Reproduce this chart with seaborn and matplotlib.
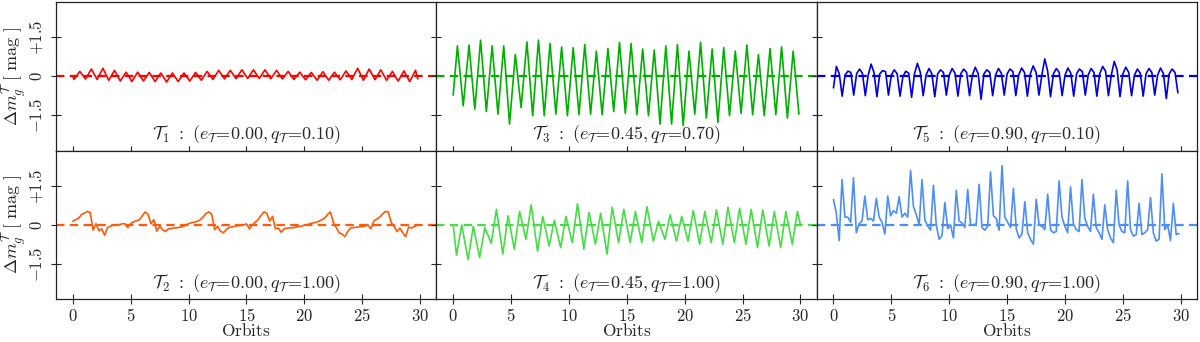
import matplotlib.pyplot as plt
import numpy as np
import seaborn as sns

# --- data (orbits vs. Delta m_g) ---
# T1: troughs near n+0.1, peaks near n+0.6
t1_trough = [-0.12, -0.10, -0.12, -0.15, -0.18, -0.20, -0.18, -0.20, -0.22, -0.20,
             -0.18, -0.15, -0.12, -0.10, -0.09, -0.08, -0.08, -0.09, -0.10, -0.12,
             -0.13, -0.15, -0.15, -0.13, -0.12, -0.15, -0.13, -0.15, -0.18, -0.20]
t1_peak = [0.19, 0.28, 0.31, 0.23, 0.16, 0.16, 0.15, 0.13, 0.13, 0.13,
           0.15, 0.19, 0.23, 0.23, 0.25, 0.25, 0.25, 0.23, 0.19, 0.16,
           0.15, 0.18, 0.16, 0.21, 0.31, 0.28, 0.25, 0.19, 0.21, 0.23]

# T2: sampled every 0.25 orbit
t2_vals = [0.14, 0.20, 0.26, 0.40, 0.45, 0.52, 0.48, -0.20, 0.05, -0.22, -0.15, -0.40,
           -0.10, -0.05, 0.00, 0.01, 0.01, 0.04, 0.05, -0.10, 0.05, 0.12, 0.16, 0.20,
           0.35, 0.50, 0.40, 0.05, 0.20, -0.24, -0.05, -0.18, -0.25, -0.15, -0.14, -0.11,
           -0.11, -0.08, -0.07, 0.00, 0.05, 0.08, 0.11, 0.14, 0.20, 0.30, 0.44, 0.50,
           0.40, -0.18, -0.05, -0.24, -0.30, -0.18, -0.09, -0.07, -0.05, -0.03, -0.02, 0.00,
           0.04, -0.15, 0.00, 0.10, 0.20, 0.36, 0.50, 0.45, 0.15, 0.33, -0.15, -0.12,
           -0.28, -0.15, -0.12, -0.11, -0.11, -0.08, -0.06, -0.05, 0.00, 0.01, 0.05, 0.08,
           0.10, 0.14, 0.20, 0.26, 0.40, 0.50, 0.10, -0.10, -0.30, -0.35, -0.45, -0.25,
           -0.11, -0.10, -0.09, -0.07, -0.06, -0.04, 0.00, -0.15, 0.15, 0.22, 0.30, 0.42,
           0.52, 0.50, 0.10, -0.06, -0.25, -0.12, -0.30, -0.45, -0.08, -0.12, -0.06, 0.00]

# T3: peaks near n+0.37, troughs near n+0.87
t3_peak = [1.17, 1.20, 1.39, 1.17, 1.17, 0.84, 1.32, 1.39, 1.26, 1.13,
           1.10, 1.22, 0.97, 1.07, 1.30, 1.26, 1.05, 1.01, 1.17, 1.22,
           0.97, 1.30, 1.05, 1.10, 0.97, 1.20, 0.84, 1.07, 1.13, 0.97]
t3_trough = [-1.13, -1.26, -1.35, -1.45, -1.83, -1.20, -1.51, -1.51, -1.45, -1.51,
             -1.47, -1.45, -1.47, -1.35, -1.42, -1.47, -1.51, -1.83, -1.83, -1.89,
             -1.45, -1.60, -1.76, -1.51, -1.42, -1.47, -1.51, -1.47, -1.60, -1.45]

# T4: troughs near n+0.29, peaks near n+0.74
t4_trough = [-1.16, -1.33, -1.25, -0.70, -1.12, -0.93, -0.55, -1.00, -0.81, -0.87,
             -0.68, -0.93, -0.74, -1.12, -0.68, -0.68, -0.68, -0.62, -0.55, -0.62,
             -0.62, -0.74, -0.68, -0.74, -0.68, -0.74, -0.87, -0.81, -0.87, -0.74]
t4_peak = [0.00, -0.05, -0.10, 0.60, 0.35, 0.52, 0.77, 0.33, 0.18, 0.33,
           0.81, 0.48, 0.45, 0.68, 0.60, 0.52, 0.70, 0.14, 0.39, 0.33,
           0.55, 0.52, 0.58, 0.68, 0.64, 0.60, 0.58, 0.52, 0.52, 0.52]

# T5: sampled every 0.25 orbit
t5_vals = [-0.44, 0.38, 0.10, -0.76, 0.05, 0.20, 0.15, -0.72, 0.10, 0.28, 0.12, -0.74,
           0.05, 0.47, 0.15, -0.78, 0.10, 0.22, 0.18, -0.72, 0.05, 0.25, 0.10, -0.76,
           0.00, 0.20, 0.12, -0.80, 0.10, 0.50, 0.15, -0.74, 0.05, 0.30, 0.10, -0.78,
           0.10, 0.25, 0.15, -0.72, 0.05, 0.30, 0.12, -0.76, 0.10, 0.28, 0.15, -0.74,
           0.05, 0.35, 0.10, -0.88, 0.10, 0.25, 0.15, -0.74, 0.05, 0.30, 0.12, -0.72,
           0.10, 0.28, 0.18, -0.74, 0.05, 0.32, 0.15, -0.76, 0.10, 0.40, 0.15, -0.72,
           0.05, 0.67, 0.20, -0.78, 0.10, 0.30, 0.15, -0.74, 0.05, 0.32, 0.12, -0.76,
           0.10, 0.28, 0.18, -0.72, 0.05, 0.30, 0.15, -0.76, 0.10, 0.38, 0.20, -0.74,
           0.05, 0.57, 0.25, -0.78, 0.10, 0.35, 0.15, -0.74, 0.05, 0.28, 0.12, -0.76,
           0.10, 0.30, 0.15, -0.72, 0.05, 0.32, 0.10, -0.85, 0.10, 0.28, 0.15, -0.63]

# T6: four samples per orbit, spike on every fourth
t6_vals = [0.98, 0.45, -0.60, 1.74, 0.30, 0.30, 0.10, 1.81, -0.30, 0.05, 0.15, 1.11,
           0.20, 0.25, 0.15, 1.02, 0.30, 0.10, -0.35, 1.11, 0.35, 0.55, 0.45, 1.08,
           0.30, 0.45, 0.30, 2.09, 0.70, 0.40, 0.00, 1.74, 0.20, -0.05, -0.20, 1.52,
           0.00, -0.55, -0.40, 0.86, -0.15, 0.00, -0.50, 1.33, 0.15, 0.08, -0.10, 1.36,
           0.00, 0.00, 0.05, 1.56, -0.10, -0.20, -0.05, 2.03, 0.35, 0.25, -0.20, 2.28,
           0.30, 0.10, -0.10, 1.40, -0.15, -0.50, -0.35, 0.89, -0.30, -0.55, -0.74, 0.98,
           0.00, -0.05, -0.18, 1.18, -0.18, -0.30, -0.25, 1.69, 0.30, -0.05, -0.30, 1.46,
           0.05, -0.18, -0.25, 1.74, 0.25, -0.05, -0.25, 1.18, -0.10, -0.30, -0.55, 0.77,
           -0.18, -0.50, -0.68, 1.33, 0.00, -0.25, -0.30, 1.69, -0.18, -0.43, -0.37, 0.83,
           -0.37, -0.30, -0.18, 1.05, -0.30, -0.62, -0.55, 1.96, -0.18, 0.00, -0.60, 0.83,
           -0.37, -0.33]

labels = [r'$\mathcal{T}_1\ :\ (e_{\mathcal{T}}\!=\!0.00, q_{\mathcal{T}}\!=\!0.10)$',
          r'$\mathcal{T}_2\ :\ (e_{\mathcal{T}}\!=\!0.00, q_{\mathcal{T}}\!=\!1.00)$',
          r'$\mathcal{T}_3\ :\ (e_{\mathcal{T}}\!=\!0.45, q_{\mathcal{T}}\!=\!0.70)$',
          r'$\mathcal{T}_4\ :\ (e_{\mathcal{T}}\!=\!0.45, q_{\mathcal{T}}\!=\!1.00)$',
          r'$\mathcal{T}_5\ :\ (e_{\mathcal{T}}\!=\!0.90, q_{\mathcal{T}}\!=\!0.10)$',
          r'$\mathcal{T}_6\ :\ (e_{\mathcal{T}}\!=\!0.90, q_{\mathcal{T}}\!=\!1.00)$']
colors = ['#ff0000', '#ff5a0a', '#00b000', '#44dd44', '#0000dd', '#4d8ef5']
xticks = [0, 5, 10, 15, 20, 25, 30]
yticks = [-1.5, 0, 1.5]
yticklabels = [r'$-1.5$', r'$0$', r'$+1.5$']


def zigzag(t_a, v_a, t_b, v_b):
    # interleave two sets of turning points
    t = np.empty(len(t_a) + len(t_b))
    v = np.empty(len(t_a) + len(t_b))
    t[0::2], t[1::2] = t_a, t_b
    v[0::2], v[1::2] = v_a, v_b
    return t, v


n = np.arange(30)
x1, y1 = zigzag(n + 0.1, t1_trough, n + 0.6, t1_peak)
x1, y1 = np.r_[0, x1, 29.8], np.r_[0.0, y1, -0.1]
x2 = np.arange(len(t2_vals)) * 0.25
y2 = np.array(t2_vals)
x3, y3 = zigzag(n + 0.37, t3_peak, n + 0.87, t3_trough)
x3, y3 = np.r_[0, x3], np.r_[-0.72, y3]
x4, y4 = zigzag(n + 0.29, t4_trough, n + 0.74, t4_peak)
x4, y4 = np.r_[0, x4, 30.0], np.r_[0.0, y4, 0.0]
x5 = np.arange(len(t5_vals)) * 0.25
y5 = np.array(t5_vals)
x6 = np.linspace(0.0, 29.85, len(t6_vals))
y6 = np.array(t6_vals)

series = [(x1, y1), (x2, y2), (x3, y3), (x4, y4), (x5, y5), (x6, y6)]

sns.set_style('ticks')
plt.rcParams['font.family'] = ['DejaVu Serif']
plt.rcParams['mathtext.fontset'] = 'cm'

fig, axes = plt.subplots(2, 3, figsize=(12, 3.42), dpi=100, sharex=True, sharey=True)
fig.subplots_adjust(left=0.0467, right=0.9975, top=0.994, bottom=0.125, wspace=0, hspace=0)

for i, (x, y) in enumerate(series):
    row, col = i % 2, i // 2
    ax = axes[row, col]
    sns.lineplot(x=x, y=y, ax=ax, color=colors[i], lw=1.2)
    ax.axhline(0, color=colors[i], lw=1.6, ls=(0, (3.8, 2.4)))
    ax.text(0.5, 0.107, labels[i], transform=ax.transAxes, ha='center', va='center', fontsize=13)
    ax.set_xlim(-1.45, 31.4)
    ax.set_ylim(-2.85, 2.85)
    ax.set_xticks(xticks)
    ax.set_yticks(yticks)
    ax.tick_params(axis='y', direction='inout', length=7, width=0.8, labelsize=12, pad=4)
    ax.tick_params(axis='x', direction='inout', length=7, width=0.8, labelsize=12, pad=2.5)
    for s in ax.spines.values():
        s.set_color('#222222')
        s.set_linewidth(0.9)
    if row == 1:
        ax.set_xticklabels([r'$%d$' % v for v in xticks])
        ax.set_xlabel(r'$\mathrm{Orbits}$', fontsize=12.5, labelpad=-1)
    else:
        ax.set_xlabel('')
    if col == 0:
        ax.set_yticklabels(yticklabels, rotation=90, va='center')
        ax.set_ylabel(r'$\Delta m_g^{\mathcal{T}}\ [\ \mathrm{mag}\ ]$', fontsize=13, labelpad=0)
    else:
        ax.set_ylabel('')

fig.savefig('out.png', dpi=100)
